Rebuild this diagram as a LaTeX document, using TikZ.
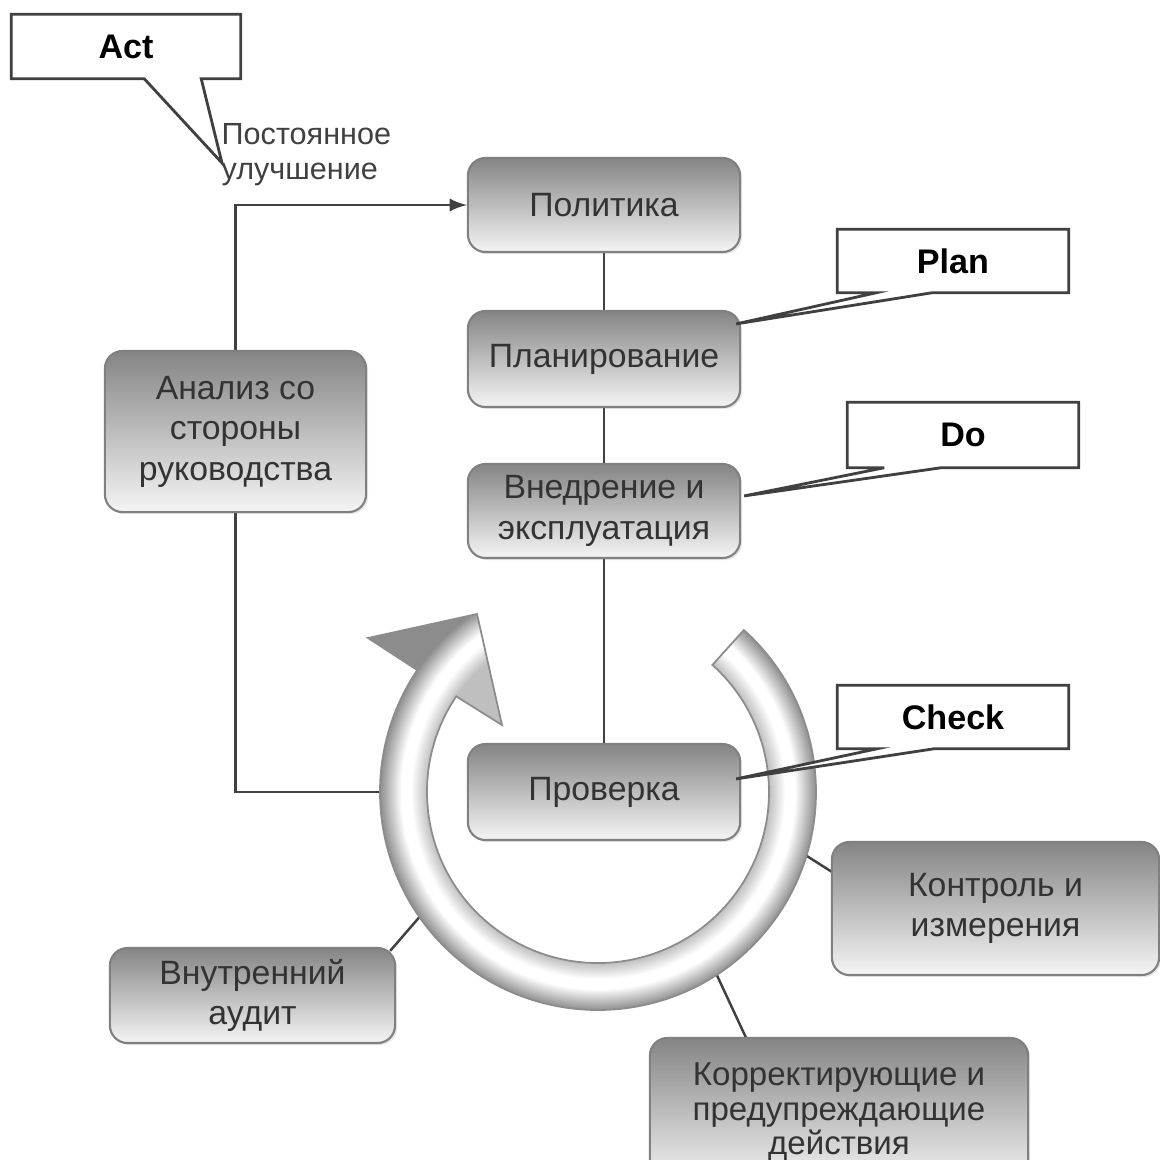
\documentclass[tikz,border=0pt]{standalone}
\usepackage{fontspec}
\setmainfont{Liberation Sans}
\usepackage{tikz}
\usetikzlibrary{arrows,calc,backgrounds,shadows}

\definecolor{linegray}{gray}{0.25}
\definecolor{boxedge}{gray}{0.5}
\pgfdeclareradialshading{ringshade}{\pgfpoint{0bp}{0bp}}{color(0bp)=(black!25); color(14.25bp)=(black!25); color(15.6bp)=(white); color(16.4bp)=(white); color(18.2bp)=(black!45); color(25bp)=(black!45); color(50bp)=(black!45)}

\tikzset{
  box/.style={rectangle, rounded corners=5pt, draw=boxedge, line width=0.6pt,
    top color=black!48, bottom color=black!4, text=black!80, align=center,
    inner sep=0pt, font=\fontsize{9.6}{11.5}\selectfont,
    drop shadow={opacity=0.18, shadow xshift=0.6pt, shadow yshift=-0.6pt}},
  tag/.style={rectangle, inner sep=0pt, font=\bfseries\fontsize{9.7}{11}\selectfont},
  callout/.style={draw=black!75, line width=0.8pt, fill=white},
  link/.style={draw=linegray, line width=0.7pt},
  ring/.style={draw=black!45, line width=0.5pt}
}

\begin{document}
\begin{tikzpicture}[x=0.01cm,y=-0.01cm]
\useasboundingbox (0,0) rectangle (1159,1160);

% PDCA boxes
\node[box, minimum width=2.72cm, minimum height=0.94cm] (policy) at (604,205) {Политика};
\node[box, minimum width=2.72cm, minimum height=0.96cm] (plan) at (604,359) {Планирование};
\node[box, minimum width=2.72cm, minimum height=0.94cm] (impl) at (604,511) {Внедрение и\\эксплуатация};
\node[box, minimum width=2.72cm, minimum height=0.96cm] (check) at (604,792) {Проверка};
\node[box, minimum width=2.61cm, minimum height=1.61cm] (analysis) at (235.5,431.5) {Анализ со\\стороны\\руководства};
\node[box, minimum width=2.85cm, minimum height=0.95cm] (audit) at (252.5,995.5) {Внутренний\\аудит};
\node[box, minimum width=3.27cm, minimum height=1.33cm] (control) at (995.5,908.5) {Контроль и\\измерения};
\node[box, minimum width=3.78cm, minimum height=1.48cm,
  font=\fontsize{9.4}{9.8}\selectfont] (corr) at (839,1112) {Корректирующие и\\предупреждающие\\действия};

\node[anchor=west, align=left, text=black!75, inner sep=0pt,
  font=\fontsize{8.7}{10}\selectfont] (improve) at (221,155) {Постоянное\\улучшение};

% the cycle arrow
\coordinate (c) at (598,792);
\path[ring, path picture={\shade[shading=ringshade] (c) circle[radius=300];}]
  ($(c)+(-48:218)$) arc[start angle=-48, end angle=214, radius=218]
  -- (368,638) -- (477,614) -- (502,725)
  -- ($(c)+(214:171)$) arc[start angle=214, end angle=-48, radius=171] -- cycle;

\begin{scope}[on background layer]
\draw[link] (policy) -- (plan) -- (impl) -- (check);
\draw[link,-latex] (analysis.north) |- (policy.west);
\draw[link] (analysis.south) |- ($(c)+(180:218)$);
\draw[link] ($(c)+(145:218)$) -- ($(audit.north east)+(-6,4)$);
\draw[link] ($(c)+(17:218)$) -- ($(control.west)+(2,-36)$);
\draw[link] ($(c)+(57:218)$) -- ($(c)+(59:290)$);
\end{scope}

% callouts
\node[tag, minimum width=2.28cm, minimum height=0.63cm] (act) at (126,46.5) {Act};
\node[tag, minimum width=2.30cm, minimum height=0.62cm] (plantag) at (953,261) {Plan};
\node[tag, minimum width=2.30cm, minimum height=0.64cm] (dotag) at (963,435) {Do};
\node[tag, minimum width=2.30cm, minimum height=0.62cm] (checktag) at (953,717) {Check};

\begin{scope}[on background layer]
\draw[callout] (act.north west) -- (act.north east) -- (act.south east)
  -- ($(act.south west)+(190,0)$) -- (222,163) -- ($(act.south west)+(133,0)$)
  -- (act.south west) -- cycle;
\end{scope}
\draw[callout] (plantag.north west) -- (plantag.north east) -- (plantag.south east)
  -- ($(plantag.south west)+(95,0)$) -- ($(plan.north east)+(-5,14)$)
  -- ($(plantag.south west)+(39,0)$) -- (plantag.south west) -- cycle;
\draw[callout] (dotag.north west) -- (dotag.north east) -- (dotag.south east)
  -- ($(dotag.south west)+(94,0)$) -- ($(impl.north east)+(3,33)$)
  -- ($(dotag.south west)+(37,0)$) -- (dotag.south west) -- cycle;
\draw[callout] (checktag.north west) -- (checktag.north east) -- (checktag.south east)
  -- ($(checktag.south west)+(97,0)$) -- ($(check.north east)+(-5,36)$)
  -- ($(checktag.south west)+(40,0)$) -- (checktag.south west) -- cycle;
\node[tag] at (plantag) {Plan};
\node[tag] at (dotag) {Do};
\node[tag] at (checktag) {Check};
\end{tikzpicture}
\end{document}
